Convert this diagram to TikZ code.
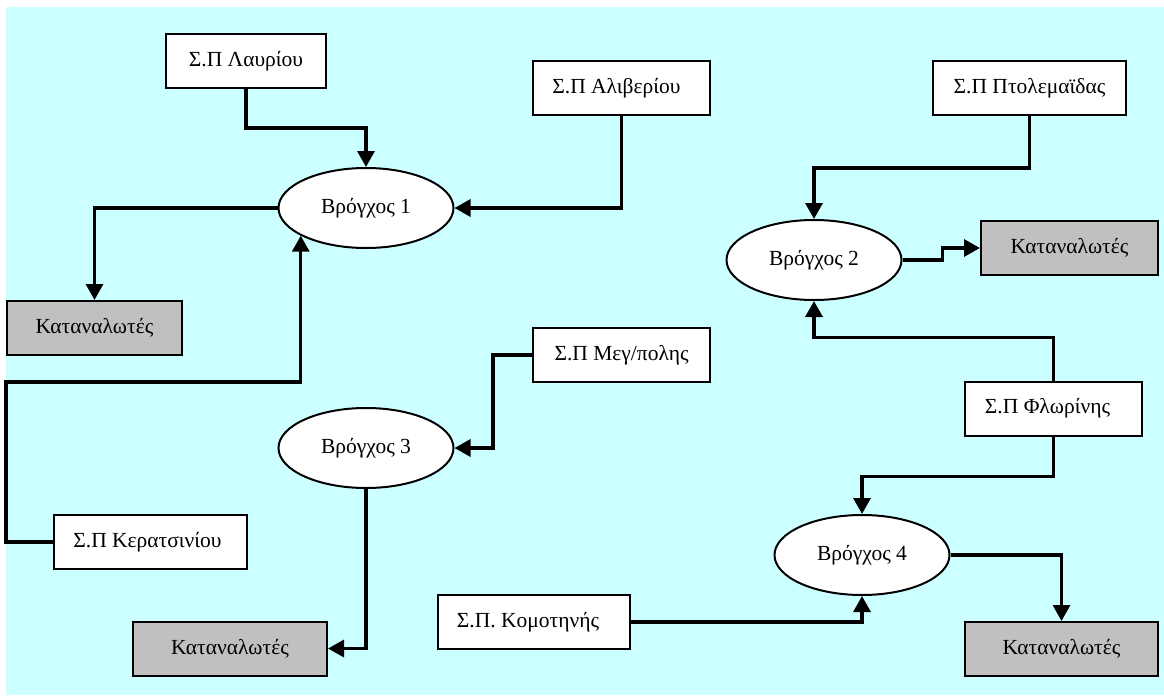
\documentclass[tikz,border=0pt]{standalone}
\usepackage{fontspec}
\setmainfont{Liberation Serif}
\usetikzlibrary{shapes.geometric,arrows.meta}
\definecolor{bgcyan}{HTML}{CCFFFF}
\definecolor{kgray}{HTML}{C0C0C0}
\tikzset{
  plant/.style={draw,line width=2pt,fill=white,minimum height=54pt,inner sep=0pt,font=\fontsize{21.5}{24}\selectfont},
  cons/.style={plant,fill=kgray},
  loop/.style={draw,ellipse,line width=2pt,fill=white,minimum width=175pt,minimum height=80pt,inner sep=0pt,font=\fontsize{21.5}{24}\selectfont},
  conn/.style={line width=3.2pt,-{Triangle[length=16pt,width=17pt]}}
}
\begin{document}
\begin{tikzpicture}[x=1pt,y=-1pt]
\useasboundingbox (0,0) rectangle (1164,696);
\fill[bgcyan] (6,7) rectangle (1164,695);
% loops
\node[loop] (b1) at (366,208) {Βρόγχος 1};
\node[loop] (b2) at (814,260) {Βρόγχος 2};
\node[loop] (b3) at (366,448) {Βρόγχος 3};
\node[loop] (b4) at (862,555) {Βρόγχος 4};
% plants
\node[plant,minimum width=160pt] (lav) at (246,61) {Σ.Π Λαυρίου};
\node[plant,minimum width=177pt] (ali) at (621.5,88) {Σ.Π Αλιβερίου\kern10pt};
\node[plant,minimum width=193pt] (pto) at (1029.5,88) {Σ.Π Πτολεμαϊδας};
\node[plant,minimum width=177pt] (meg) at (621.5,355) {Σ.Π Μεγ/πολης};
\node[plant,minimum width=177pt] (flo) at (1053.5,408.5) {Σ.Π Φλωρίνης\kern12pt};
\node[plant,minimum width=193pt] (ker) at (150.5,542) {Σ.Π Κερατσινίου\kern6pt};
\node[plant,minimum width=192pt] (kom) at (534,622) {Σ.Π. Κομοτηνής\kern12pt};
% consumers
\node[cons,minimum width=175pt] (kat1) at (94.5,328) {Καταναλωτές};
\node[cons,minimum width=177pt] (kat2) at (1069.5,248) {Καταναλωτές};
\node[cons,minimum width=194pt] (kat3) at (230,648.5) {Καταναλωτές};
\node[cons,minimum width=193pt] (kat4) at (1061.5,649) {Καταναλωτές};
% connectors
\draw[conn] (lav.south) -- ++(0,39) -| (b1.north);
\draw[conn] (ali.south) |- (b1.east);
\draw[conn] (b1.west) -| (kat1.north);
\draw[conn] (ker.west) -- ++(-47,0) coordinate (k1) -- (k1 |- 0,382) -| (b1.203.8);
\draw[conn] (pto.south) -- ++(0,52) -| (b2.north);
\draw[conn] (b2.east) -- ++(40,0) |- (kat2.west);
\draw[conn] (flo.north) -- ++(0,-43) -| (b2.south);
\draw[conn] (flo.south) -- ++(0,40) -| (b4.north);
\draw[conn] (b4.east) -| (kat4.north);
\draw[conn] (kom.east) -| (b4.south);
\draw[conn] (meg.west) -- ++(-39,0) |- (b3.east);
\draw[conn] (b3.south) |- (kat3.east);
\end{tikzpicture}
\end{document}
